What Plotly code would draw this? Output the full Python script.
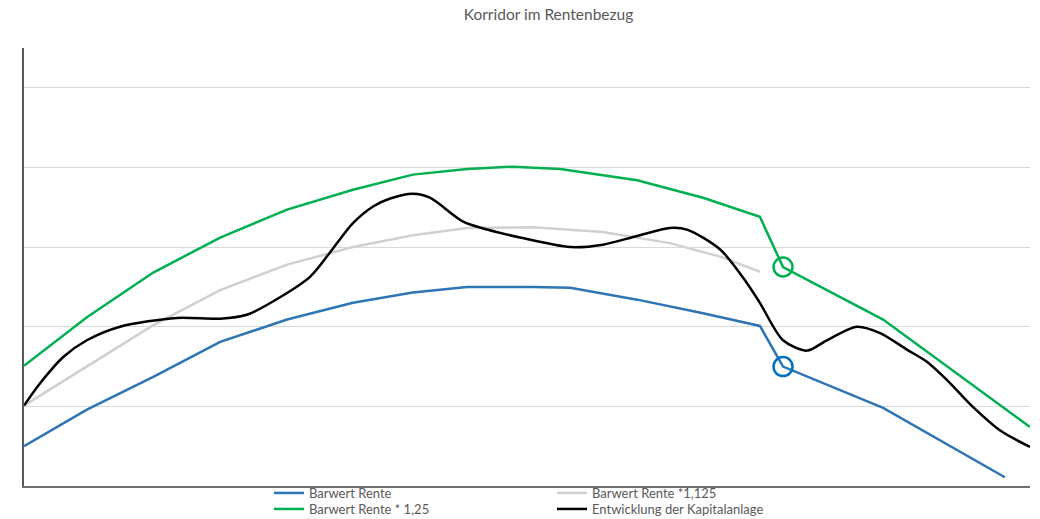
import plotly.graph_objects as go

# ---- data (x: time units, y: value units) ----
blue_x = [0, 1.25, 2.57, 3.9, 5.23, 6.54, 7.73, 8.81, 10.12, 10.86, 12.19, 13.5, 14.63, 15.09, 17.08, 19.5]
blue_y = [0.50, 0.96, 1.37, 1.81, 2.09, 2.30, 2.43, 2.50, 2.50, 2.49, 2.34, 2.17, 2.01, 1.50, 0.98, 0.11]

green_x = [0, 1.25, 2.57, 3.9, 5.23, 6.54, 7.73, 8.81, 9.72, 10.66, 12.19, 13.5, 14.63, 15.09, 17.08, 20.0]
green_y = [1.51, 2.12, 2.68, 3.12, 3.47, 3.72, 3.91, 3.98, 4.01, 3.98, 3.84, 3.62, 3.38, 2.75, 2.09, 0.74]

gray_x = [0, 1.25, 2.57, 3.9, 5.23, 6.54, 7.73, 8.81, 10.12, 11.51, 12.84, 13.84, 14.63]
gray_y = [1.01, 1.50, 2.02, 2.46, 2.78, 3.00, 3.15, 3.24, 3.25, 3.19, 3.05, 2.88, 2.69]

black_x = [0, 0.32, 0.78, 1.25, 1.91, 3.04, 3.9, 4.43, 5.09, 5.69, 6.08, 6.54, 6.94, 7.28, 7.73,
           8.07, 8.73, 9.21, 9.86, 10.86, 11.51, 12.19, 12.84, 13.18, 13.84, 14.37, 14.63, 15.09,
           15.57, 15.96, 16.56, 17.02, 17.56, 17.95, 18.35, 18.87, 19.4, 20.0]
black_y = [1.01, 1.29, 1.62, 1.83, 2.00, 2.11, 2.10, 2.15, 2.37, 2.63, 2.93, 3.30, 3.51, 3.61, 3.67,
           3.62, 3.32, 3.22, 3.12, 3.00, 3.03, 3.14, 3.24, 3.22, 2.97, 2.55, 2.30, 1.83,
           1.70, 1.83, 2.00, 1.92, 1.71, 1.56, 1.33, 0.99, 0.70, 0.49]

marker_index = 13  # highlighted point on blue and green series

names = ["Barwert Rente", "Barwert Rente *1,125", "Barwert Rente * 1,25", "Entwicklung der Kapitalanlage"]

FONT = "Lato"
TXT = "#595959"

fig = go.Figure()
fig.add_trace(go.Scatter(x=blue_x, y=blue_y, mode="lines", name=names[0],
                         line=dict(color="#2E75B6", width=2.5), legend="legend"))
fig.add_trace(go.Scatter(x=gray_x, y=gray_y, mode="lines", name=names[1],
                         line=dict(color="#D0D0D0", width=2.5), legend="legend2"))
fig.add_trace(go.Scatter(x=green_x, y=green_y, mode="lines", name=names[2],
                         line=dict(color="#00B050", width=2.5), legend="legend3"))
fig.add_trace(go.Scatter(x=black_x, y=black_y, mode="lines", name=names[3],
                         line=dict(color="#000000", width=2.5, shape="spline", smoothing=0.8),
                         legend="legend4"))
fig.add_trace(go.Scatter(x=[blue_x[marker_index]], y=[blue_y[marker_index]], mode="markers",
                         showlegend=False,
                         marker=dict(symbol="circle-open", size=19, line=dict(width=2.5, color="#0070C0"), color="#0070C0")))
fig.add_trace(go.Scatter(x=[green_x[marker_index]], y=[green_y[marker_index]], mode="markers",
                         showlegend=False,
                         marker=dict(symbol="circle-open", size=19, line=dict(width=2.5, color="#00B050"), color="#00B050")))

leg_common = dict(font=dict(family=FONT, size=13, color=TXT), bgcolor="rgba(0,0,0,0)",
                  xanchor="left", yanchor="middle", orientation="v", borderwidth=0)
x1 = (269 - 24) / 1006
x2 = (552 - 24) / 1006
yr1 = (486 - 493) / 438
yr2 = (486 - 509) / 438

W, H = 1040, 519
fig.update_layout(
    width=W, height=H,
    margin=dict(l=24, r=W - 1030, t=48, b=H - 486, pad=0, autoexpand=False),
    paper_bgcolor="white", plot_bgcolor="white",
    title=dict(text="Korridor im Rentenbezug", x=548.5 / W, xanchor="center", xref="container",
               y=1 - 14.5 / H, yanchor="middle", yref="container",
               font=dict(family=FONT, size=15.5, color=TXT)),
    xaxis=dict(range=[0, 20], showgrid=False, zeroline=False, showticklabels=False, ticks="",
               showline=True, linecolor="#6F6F6F", linewidth=2),
    yaxis=dict(range=[0, 5.5], dtick=1, tick0=0, showgrid=True, gridcolor="#D9D9D9", gridwidth=1,
               zeroline=False, showticklabels=False, ticks="",
               showline=True, linecolor="#595959", linewidth=2),
    legend=dict(x=x1, y=yr1, **leg_common),
    legend2=dict(x=x2, y=yr1, **leg_common),
    legend3=dict(x=x1, y=yr2, **leg_common),
    legend4=dict(x=x2, y=yr2, **leg_common),
    hovermode=False,
)

fig.write_html("out.html", config={"displayModeBar": False, "staticPlot": True},
               post_script="document.body.style.margin='0';")
